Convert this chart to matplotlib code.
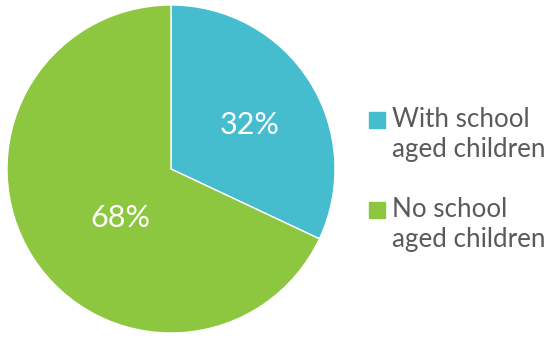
import matplotlib
matplotlib.use("Agg")
import matplotlib.pyplot as plt
from matplotlib.patches import Rectangle

categories = ["With school\naged children", "No school\naged children"]
values = [32, 68]
labels = ["32%", "68%"]
colors = ["#46BDCF", "#8DC63F"]

W, H = 547, 337
fig = plt.figure(figsize=(W/100, H/100), dpi=100)
cx, cy, r = 171, 169, 164
ax = fig.add_axes([(cx - r)/W, (H - cy - r)/H, 2*r/W, 2*r/H])
wedges, _ = ax.pie(values, colors=colors, startangle=90, counterclock=False,
                   radius=1, wedgeprops=dict(edgecolor="white", linewidth=1))
ax.set_xlim(-1, 1); ax.set_ylim(-1, 1); ax.set_aspect("equal"); ax.axis("off")

# percentage labels
pos = [(250, 125), (120, 218)]
for (px, py), t in zip(pos, labels):
    fig.text(px/W, 1 - py/H, t, color="white", fontsize=22, family="Lato",
             ha="center", va="center")

# legend
sq_y = [112, 202]
for c, lab, y in zip(colors, categories, sq_y):
    fig.patches.append(Rectangle((369/W, 1 - (y+16)/H), 16/W, 16/H,
                                 transform=fig.transFigure, color=c))
    for i, line in enumerate(lab.split("\n")):
        fig.text(392/W, 1 - (y + 15 + 30*i)/H, line, color="#5a5a5a",
                 fontsize=18.7, family="Lato", ha="left", va="baseline")

fig.savefig("out.png", dpi=100)
